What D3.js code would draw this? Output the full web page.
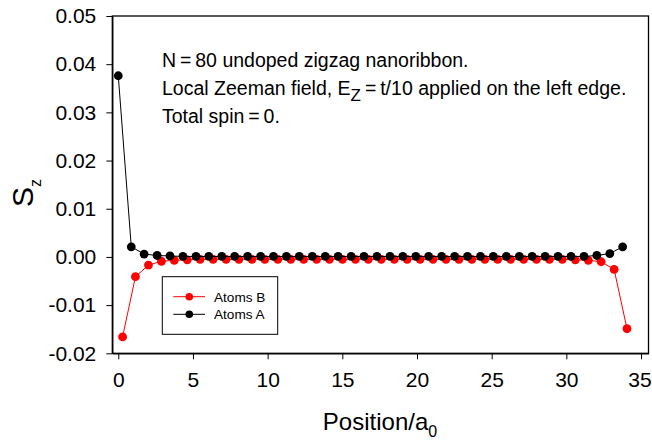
<!DOCTYPE html>
<html><head><meta charset="utf-8">
<script src="https://cdn.jsdelivr.net/npm/d3@7"></script>
<style>body{margin:0;background:#fff}svg{display:block;font-family:"Liberation Sans",Arial,sans-serif}</style>
</head><body><svg id="c" width="652" height="441"></svg>
<script>
const posA = [0,0.87,1.73,2.60,3.46,4.33,5.20,6.06,6.93,7.79,8.66,9.53,10.39,11.26,12.12,12.99,13.86,14.72,15.59,16.45,17.32,18.19,19.05,19.92,20.78,21.65,22.52,23.38,24.25,25.11,25.98,26.85,27.71,28.58,29.44,30.31,31.18,32.04,32.91,33.77];
const valA = [0.0376,0.0021,0.0006,0.0003,0.0002,0.0001,0.0001,0.0001,0.0001,0.0001,0.0001,0.0001,0.0001,0.0001,0.0001,0.0001,0.0001,0.0001,0.0001,0.0001,0.0001,0.0001,0.0001,0.0001,0.0001,0.0001,0.0001,0.0001,0.0001,0.0001,0.0001,0.0001,0.0001,0.0001,0.0001,0.0001,0.0001,0.0003,0.0007,0.0021];
const posB = [0.29,1.15,2.02,2.89,3.75,4.62,5.48,6.35,7.22,8.08,8.95,9.81,10.68,11.55,12.41,13.28,14.14,15.01,15.88,16.74,17.61,18.48,19.34,20.21,21.07,21.94,22.81,23.67,24.54,25.40,26.27,27.14,28.00,28.87,29.73,30.60,31.47,32.33,33.20,34.06];
const valB = [-0.0166,-0.0041,-0.0017,-0.0009,-0.0007,-0.0006,-0.0005,-0.0005,-0.0005,-0.0005,-0.0005,-0.0005,-0.0005,-0.0005,-0.0005,-0.0005,-0.0005,-0.0005,-0.0005,-0.0005,-0.0005,-0.0005,-0.0005,-0.0005,-0.0005,-0.0005,-0.0005,-0.0005,-0.0005,-0.0005,-0.0005,-0.0005,-0.0005,-0.0005,-0.0005,-0.0006,-0.0007,-0.0010,-0.0026,-0.0149];
const xTicks = [0,5,10,15,20,25,30,35];
const yTicks = [-0.02,-0.01,0,0.01,0.02,0.03,0.04,0.05];
const yTickLabels = ["-0.02","-0.01","0.00","0.01","0.02","0.03","0.04","0.05"];
const seriesNames = ["Atoms B","Atoms A"];
const seriesColors = ["#ff0000","#000000"];

const svg = d3.select("#c");
const L=112.3,R=648.5,T=16,B=353.3;
const x = d3.scaleLinear().domain([-0.4,35.5]).range([L,R]);
const y = d3.scaleLinear().domain([-0.02,0.05]).range([B,T]);

// frame
svg.append("rect").attr("x",L).attr("y",T).attr("width",R-L).attr("height",B-T)
  .attr("fill","none").attr("stroke","#000").attr("stroke-width",1.3);

const xa = svg.append("g").attr("transform",`translate(0,${B})`)
  .call(d3.axisBottom(x).tickValues(xTicks).tickSize(6).tickSizeOuter(0).tickPadding(13).tickFormat(d3.format("d")));
const ya = svg.append("g").attr("transform",`translate(${L},0)`)
  .call(d3.axisLeft(y).tickValues(yTicks).tickSize(6).tickSizeOuter(0).tickPadding(10).tickFormat((d,i)=>yTickLabels[i]));
[xa,ya].forEach(g=>{
  g.select(".domain").attr("stroke","#000").attr("stroke-width",1.3);
  g.selectAll(".tick line").attr("stroke","#000").attr("stroke-width",1);
  g.selectAll(".tick text").attr("fill","#000").style("font-size","21px").style("font-family","'Liberation Sans',Arial,sans-serif");
});
xa.selectAll(".tick text").filter(d=>d===35).attr("dx",-1.5);

const dataB = posB.map((p,i)=>[p,valB[i]]);
const dataA = posA.map((p,i)=>[p,valA[i]]);
const line = d3.line().x(d=>x(d[0])).y(d=>y(d[1]));
[[dataB,seriesColors[0]],[dataA,seriesColors[1]]].forEach(([data,col])=>{
  svg.append("path").datum(data).attr("d",line).attr("fill","none").attr("stroke",col).attr("stroke-width",1);
  svg.append("g").selectAll("circle").data(data).join("circle")
    .attr("cx",d=>x(d[0])).attr("cy",d=>y(d[1])).attr("r",4.4).attr("fill",col);
});

// legend
const lg = svg.append("g");
lg.append("rect").attr("x",162.3).attr("y",276.7).attr("width",115.4).attr("height",57.6)
  .attr("fill","#fff").attr("stroke","#000").attr("stroke-width",1);
seriesNames.forEach((n,i)=>{
  const yy = 296.7 + i*17.6;
  lg.append("line").attr("x1",173.3).attr("x2",205).attr("y1",yy).attr("y2",yy).attr("stroke",seriesColors[i]).attr("stroke-width",1);
  lg.append("circle").attr("cx",189.3).attr("cy",yy).attr("r",3.8).attr("fill",seriesColors[i]);
  lg.append("text").attr("x",214).attr("y",yy+4.8).style("font-size","13.6px").text(n);
});

// annotation
const ann = svg.append("g").style("font-size","19.5px");
ann.append("text").attr("x",162).attr("y",67).text("N\u2009=\u200980 undoped zigzag nanoribbon.");
const t2 = ann.append("text").attr("x",162).attr("y",95);
t2.append("tspan").text("Local Zeeman field, E");
t2.append("tspan").attr("dy",6).style("font-size","17px").text("Z");
t2.append("tspan").attr("dy",-6).text("\u2009=\u2009t/10 applied on the left edge.");
ann.append("text").attr("x",162).attr("y",123).text("Total spin\u2009=\u20090.");

// axis titles
const yl = svg.append("text").attr("transform","translate(33,193) rotate(-90)").attr("text-anchor","middle").style("font-size","30px");
yl.append("tspan").text("S");
yl.append("tspan").attr("dy",8).style("font-size","16px").text("z");
const xl = svg.append("text").attr("x",380).attr("y",430).attr("text-anchor","middle").style("font-size","24px");
xl.append("tspan").text("Position/a");
xl.append("tspan").attr("dy",7).style("font-size","16px").text("0");
</script></body></html>
